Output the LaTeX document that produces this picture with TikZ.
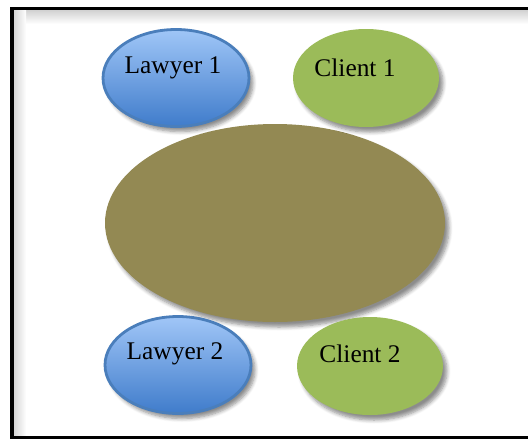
\documentclass[tikz,border=0pt]{standalone}
\usepackage{fontspec}
\setmainfont{Liberation Serif}
\usepackage{tikz}
\usetikzlibrary{
    shapes, shapes.geometric,
    positioning, calc,
    shadows, shadows.blur
}
\definecolor{lawyerTop}{HTML}{A0C6F7}
\definecolor{lawyerBottom}{HTML}{3F7CCB}
\definecolor{lawyerEdge}{HTML}{4A7EBB}
\definecolor{clientGreen}{HTML}{9BBB59}
\definecolor{tableOlive}{HTML}{938953}
\tikzset{
    % Seats
    seatShadow/.style={blur shadow={shadow xshift=2pt, shadow yshift=-2.5pt, shadow blur steps=6, shadow opacity=45}},
    lawyerSeat/.style={
        ellipse, minimum width=73pt, minimum height=48.5pt, inner sep=0pt,
        top color=lawyerTop, bottom color=lawyerBottom, draw=lawyerEdge, line width=1.4pt,
        seatShadow, font=\fontsize{12.7}{15}\selectfont
    },
    clientSeat/.style={
        ellipse, minimum width=73pt, minimum height=49pt, inner sep=0pt,
        fill=clientGreen, draw=none, seatShadow, font=\fontsize{12.7}{15}\selectfont
    },
    % Table
    tableTop/.style={
        ellipse, minimum width=170pt, minimum height=99pt, inner sep=0pt,
        fill=tableOlive, draw=none, seatShadow
    },
    seatLabel/.style={inner sep=0pt}
}
\begin{document}
\begin{tikzpicture}[x=0.5pt, y=-0.5pt]
        \useasboundingbox (0,0) rectangle (528,439);
        % Frame with inner shade
        \shade[top color=black!18, bottom color=white] (13,10) rectangle (528,24);
        \shade[left color=black!18, right color=white] (13,10) rectangle (26,436);
        \draw[line width=1.8pt] (528,8.5) -- (12,8.5) -- (12,437.5) -- (528,437.5);
        
        % Table in the middle
        \node[tableTop] (table) at (275,223) {};
        
        % Seats
        \node[lawyerSeat] (lawyer1) at (176,78) {};
        \node[clientSeat] (client1) at (366,78) {};
        \node[lawyerSeat] (lawyer2) at (178,365) {};
        \node[clientSeat] (client2) at (370,366) {};
        
        % Names
        \node[seatLabel, font=\fontsize{12.7}{15}\selectfont] (lawyer1text) at ([xshift=-1.5pt, yshift=5pt]lawyer1.center) {Lawyer 1};
        \node[seatLabel, font=\fontsize{12.7}{15}\selectfont] (client1text) at ([xshift=-5.5pt, yshift=5pt]client1.center) {Client 1};
        \node[seatLabel, font=\fontsize{12.7}{15}\selectfont] (lawyer2text) at ([xshift=-1.5pt, yshift=5.5pt]lawyer2.center) {Lawyer 2};
        \node[seatLabel, font=\fontsize{12.7}{15}\selectfont] (client2text) at ([xshift=-5pt, yshift=6pt]client2.center) {Client 2};
    \end{tikzpicture}
\end{document}
